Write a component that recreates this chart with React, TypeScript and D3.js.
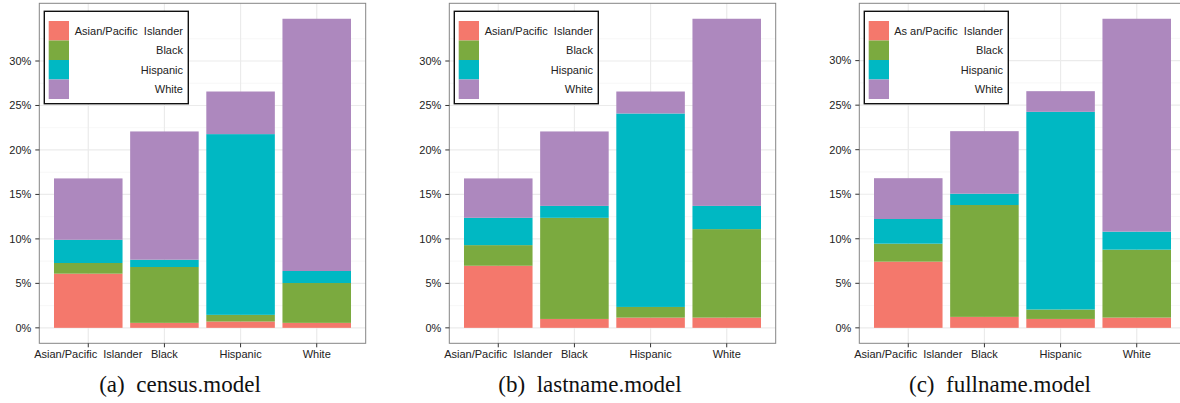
import React, { useEffect, useRef } from "react";
import * as d3 from "d3";

// predicted race (x axis) and the stacked groups
const categories = ["Asian/Pacific  Islander", "Black", "Hispanic", "White"];
const groups = ["Asian", "Black", "Hispanic", "White"];
const groupColors = ["#F4786C", "#7BAA3F", "#00B8C3", "#AD88BE"];

// values in percent, one entry per category
const censusAsian = [6.09, 0.56, 0.71, 0.56];
const censusBlack = [1.2, 6.28, 0.75, 4.48];
const censusHispanic = [2.61, 0.82, 20.32, 1.35];
const censusWhite = [6.9, 14.42, 4.79, 28.36];

const lastnameAsian = [6.98, 1.0, 1.15, 1.15];
const lastnameBlack = [2.32, 11.37, 1.2, 9.95];
const lastnameHispanic = [3.07, 1.34, 21.75, 2.61];
const lastnameWhite = [4.43, 8.37, 2.47, 21.04];

const fullnameAsian = [7.43, 1.23, 1.0, 1.15];
const fullnameBlack = [2.02, 12.56, 1.06, 7.63];
const fullnameHispanic = [2.77, 1.27, 22.19, 2.02];
const fullnameWhite = [4.58, 7.02, 2.32, 23.9];

const yTicks = [0, 5, 10, 15, 20, 25, 30];
const yMinor = [2.5, 7.5, 12.5, 17.5, 22.5, 27.5, 32.5];

const legendLabels = ["Asian/Pacific  Islander", "Black", "Hispanic", "White"];
const legendLabelsC = ["As an/Pacific  Islander", "Black", "Hispanic", "White"];

interface PanelSpec {
  caption: string;
  series: number[][];
  legend: string[];
}

const panels: PanelSpec[] = [
  {
    caption: "(a)  census.model",
    series: [censusAsian, censusBlack, censusHispanic, censusWhite],
    legend: legendLabels,
  },
  {
    caption: "(b)  lastname.model",
    series: [lastnameAsian, lastnameBlack, lastnameHispanic, lastnameWhite],
    legend: legendLabels,
  },
  {
    caption: "(c)  fullname.model",
    series: [fullnameAsian, fullnameBlack, fullnameHispanic, fullnameWhite],
    legend: legendLabelsC,
  },
];

const W = 1180;
const H = 403;
const panelW = 326.4;
const panelH = 340;
const panelTop = 3.3;
const panelStep = 410;
const firstLeft = 39.3;

const sans = "'Liberation Sans', Arial, sans-serif";
const serif = "'Liberation Serif', 'Times New Roman', serif";

const App: React.FC = () => {
  const svgRef = useRef<SVGSVGElement | null>(null);

  useEffect(() => {
    if (!svgRef.current) return;
    const svg = d3.select(svgRef.current);
    svg.selectAll("*").remove();

    panels.forEach((p, pi) => {
      const left = firstLeft + pi * panelStep;
      const g = svg.append("g").attr("transform", `translate(${left},${panelTop})`);

      const rows = categories.map((c, ci) => {
        const row: Record<string, number | string> = { cat: c };
        groups.forEach((gr, gi) => (row[gr] = p.series[gi][ci]));
        return row;
      });
      const stacked = d3.stack<Record<string, number | string>>().keys(groups)(rows);
      const maxTotal = d3.max(stacked[stacked.length - 1], (d) => d[1]) || 1;
      const pad = maxTotal * 0.05;

      const x = d3
        .scaleBand()
        .domain(categories)
        .range([0, panelW])
        .paddingInner(0.1)
        .paddingOuter(0.193);
      const y = d3.scaleLinear().domain([-pad, maxTotal + pad]).range([panelH, 0]);

      // grid
      g.selectAll(".minor")
        .data(yMinor)
        .enter()
        .append("line")
        .attr("x1", 0)
        .attr("x2", panelW)
        .attr("y1", (d) => y(d))
        .attr("y2", (d) => y(d))
        .attr("stroke", "#F3F3F3")
        .attr("stroke-width", 0.7);
      g.selectAll(".major")
        .data(yTicks)
        .enter()
        .append("line")
        .attr("x1", 0)
        .attr("x2", panelW)
        .attr("y1", (d) => y(d))
        .attr("y2", (d) => y(d))
        .attr("stroke", "#EBEBEB")
        .attr("stroke-width", 1.2);
      g.selectAll(".vgrid")
        .data(categories)
        .enter()
        .append("line")
        .attr("x1", (d) => (x(d) ?? 0) + x.bandwidth() / 2)
        .attr("x2", (d) => (x(d) ?? 0) + x.bandwidth() / 2)
        .attr("y1", 0)
        .attr("y2", panelH)
        .attr("stroke", "#EBEBEB")
        .attr("stroke-width", 1.2);

      // bars
      stacked.forEach((layer, li) => {
        g.selectAll(`.bar${li}`)
          .data(layer)
          .enter()
          .append("rect")
          .attr("x", (d) => x(d.data.cat as string) ?? 0)
          .attr("width", x.bandwidth())
          .attr("y", (d) => y(d[1]))
          .attr("height", (d) => y(d[0]) - y(d[1]))
          .attr("fill", groupColors[li]);
      });

      // panel border
      g.append("rect")
        .attr("x", 0)
        .attr("y", 0)
        .attr("width", panelW)
        .attr("height", panelH)
        .attr("fill", "none")
        .attr("stroke", "#858585")
        .attr("stroke-width", 1);

      // y axis
      yTicks.forEach((t) => {
        g.append("line")
          .attr("x1", -4)
          .attr("x2", 0)
          .attr("y1", y(t))
          .attr("y2", y(t))
          .attr("stroke", "#333")
          .attr("stroke-width", 1);
        g.append("text")
          .attr("x", -8)
          .attr("y", y(t))
          .attr("dy", "0.35em")
          .attr("text-anchor", "end")
          .attr("font-family", sans)
          .attr("font-size", 11)
          .attr("fill", "#222")
          .text(`${t}%`);
      });

      // x axis
      categories.forEach((c) => {
        const cx = (x(c) ?? 0) + x.bandwidth() / 2;
        g.append("line")
          .attr("x1", cx)
          .attr("x2", cx)
          .attr("y1", panelH)
          .attr("y2", panelH + 4)
          .attr("stroke", "#333")
          .attr("stroke-width", 1);
        g.append("text")
          .attr("x", cx)
          .attr("y", panelH + 15)
          .attr("text-anchor", "middle")
          .attr("font-family", sans)
          .attr("font-size", 11)
          .attr("fill", "#222")
          .style("white-space", "pre")
          .text(c);
      });

      // legend
      const lg = g.append("g").attr("transform", "translate(5,8)");
      lg.append("rect")
        .attr("width", 144)
        .attr("height", 92.4)
        .attr("fill", "#fff")
        .attr("stroke", "#111")
        .attr("stroke-width", 1.4);
      p.legend.forEach((lab, i) => {
        lg.append("rect")
          .attr("x", 4.4)
          .attr("y", 9.7 + i * 19.5)
          .attr("width", 20.3)
          .attr("height", 19.5)
          .attr("fill", groupColors[i]);
        lg.append("text")
          .attr("x", 138.7)
          .attr("y", 9.7 + i * 19.5 + 9.75)
          .attr("dy", "0.35em")
          .attr("text-anchor", "end")
          .attr("font-family", sans)
          .attr("font-size", 11)
          .attr("fill", "#222")
          .style("white-space", "pre")
          .text(lab);
      });

      // caption
      svg
        .append("text")
        .attr("x", 180 + pi * panelStep)
        .attr("y", 392)
        .attr("text-anchor", "middle")
        .attr("font-family", serif)
        .attr("font-size", 23)
        .attr("fill", "#111")
        .style("white-space", "pre")
        .text(p.caption);
    });
  }, []);

  return (
    <svg
      ref={svgRef}
      width={W}
      height={H}
      style={{ position: "absolute", left: 0, top: 0, background: "#fff" }}
    />
  );
};

export default App;
